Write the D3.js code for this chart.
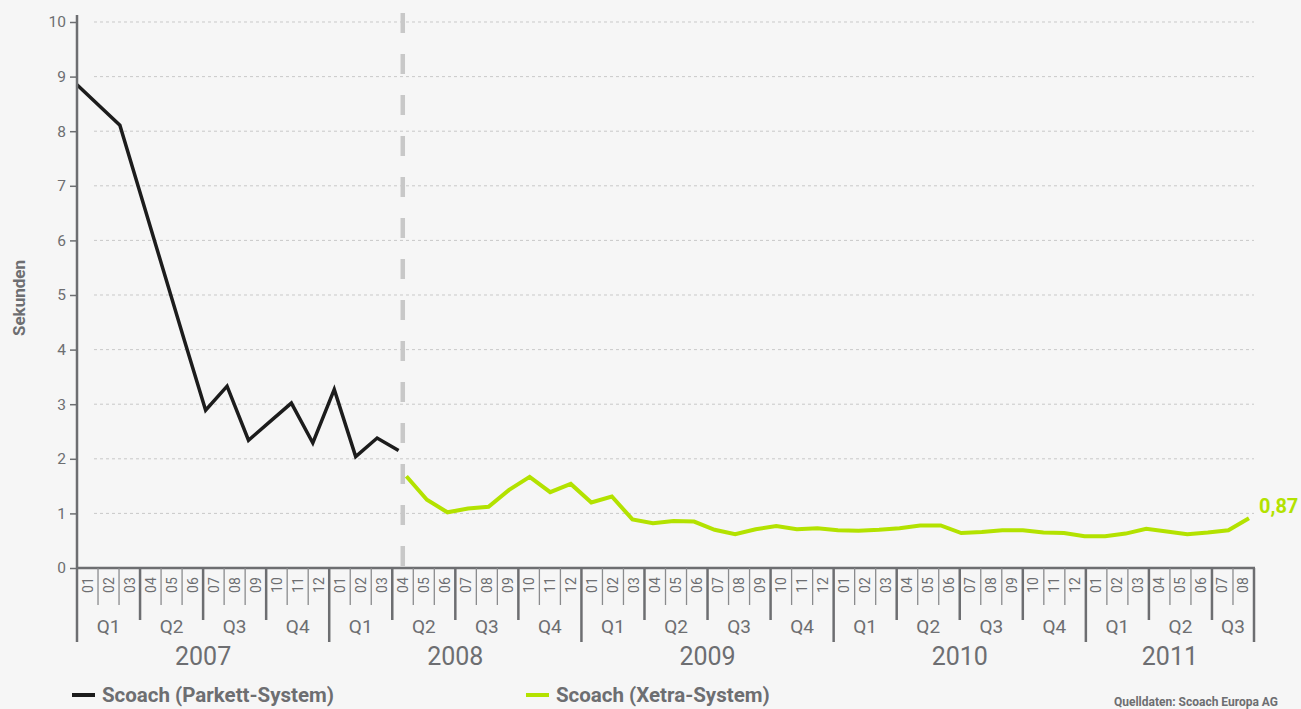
<!DOCTYPE html>
<html><head><meta charset="utf-8">
<script src="https://cdn.jsdelivr.net/npm/d3@7"></script>
<style>
html,body{margin:0;padding:0;background:#f6f6f6;}
svg{display:block;font-family:Roboto,"DejaVu Sans",sans-serif;}
</style></head><body>
<svg id="c" width="1301" height="709"></svg>
<script>
// ---- data ----
const parkettValues = [8.85, 8.48, 8.11, 6.80, 5.49, 4.18, 2.89, 3.33, 2.34, 2.68, 3.02, 2.29, 3.27, 2.04, 2.38, 2.15];
const xetraValues = [1.68,1.25,1.02,1.09,1.12,1.43,1.67,1.39,1.54,1.20,1.31,0.89,0.82,0.86,0.85,0.70,0.62,0.71,0.77,0.71,0.73,0.69,0.68,0.70,0.73,0.78,0.78,0.64,0.66,0.69,0.69,0.65,0.64,0.58,0.58,0.63,0.72,0.67,0.62,0.65,0.69,0.91];
const parkettSpan = [0, 15.3];     // months since Jan 2007
const xetraSpan = [15.67, 55.76];
const systemSwitch = 15.5;         // April 2008
const yearLabels = ["2007","2008","2009","2010","2011"];
const quarterLabels = ["Q1","Q2","Q3","Q4"];
const monthLabels = ["01","02","03","04","05","06","07","08","09","10","11","12"];
const monthCount = 56;             // Jan 2007 .. Aug 2011
const yTicks = [0,1,2,3,4,5,6,7,8,9,10];
const seriesNames = ["Scoach (Parkett-System)", "Scoach (Xetra-System)"];
const lastLabel = "0,87";
const yTitle = "Sekunden";
const source = "Quelldaten: Scoach Europa AG";

// ---- style ----
const GRAY = "#6d6e71", BLACK = "#1c1c1c", GREEN = "#b3e200", GRID = "#c9c9c9";
const svg = d3.select("#c");
const x = d3.scaleLinear().domain([0, monthCount]).range([77, 1254]);
const y = d3.scaleLinear().domain([0, 10]).range([568, 22]);
const xp = d3.scalePoint().domain(d3.range(parkettValues.length)).range(parkettSpan.map(x));
const xx = d3.scalePoint().domain(d3.range(xetraValues.length)).range(xetraSpan.map(x));

// gridlines
svg.append("g").selectAll("line").data(yTicks.filter(d => d > 0)).join("line")
  .attr("x1", 94).attr("x2", x(monthCount)).attr("y1", d => y(d)).attr("y2", d => y(d))
  .attr("stroke", GRID).attr("stroke-width", 1).attr("stroke-dasharray", "3,3");

// system switch dashed line
svg.append("line").attr("x1", x(systemSwitch)).attr("x2", x(systemSwitch))
  .attr("y1", 13).attr("y2", y(0)).attr("stroke", "#c8c8c8").attr("stroke-width", 4.5)
  .attr("stroke-dasharray", "20,21");

// lines
const line = (sx) => d3.line().x((d, i) => sx(i)).y(d => y(d));
svg.append("path").datum(xetraValues).attr("d", line(xx)).attr("fill", "none")
  .attr("stroke", GREEN).attr("stroke-width", 4).attr("stroke-linejoin", "miter");
svg.append("path").datum(parkettValues).attr("d", line(xp)).attr("fill", "none")
  .attr("stroke", BLACK).attr("stroke-width", 3.5).attr("stroke-linejoin", "miter");

// y axis
const yAxis = svg.append("g").attr("transform", `translate(${x(0)},0)`)
  .call(d3.axisLeft(y).tickValues(yTicks).tickSize(7).tickPadding(4).tickFormat(d3.format("d")));
yAxis.select(".domain").remove();
yAxis.selectAll(".tick line").attr("stroke", GRAY).attr("stroke-width", 1.5);
yAxis.selectAll(".tick text").attr("fill", GRAY).attr("font-size", 15.5).attr("font-family", "Roboto");
svg.append("line").attr("x1", x(0)).attr("x2", x(0)).attr("y1", 15).attr("y2", y(0) + 1)
  .attr("stroke", GRAY).attr("stroke-width", 2.5);

// x axis line
svg.append("line").attr("x1", x(0) - 1).attr("x2", x(monthCount) + 1).attr("y1", y(0)).attr("y2", y(0))
  .attr("stroke", GRAY).attr("stroke-width", 2.5);

// month dividers
const bounds = d3.range(monthCount + 1);
const gx = svg.append("g");
gx.selectAll("line.div").data(bounds).join("line").attr("class", "div")
  .attr("x1", d => x(d)).attr("x2", d => x(d)).attr("y1", y(0))
  .attr("y2", d => (d % 12 === 0 || d === monthCount) ? 642 : (d % 3 === 0 ? 620 : 605))
  .attr("stroke", d => (d % 3 === 0 || d === monthCount) ? GRAY : "#8a8b8d")
  .attr("stroke-width", d => (d % 3 === 0 || d === monthCount) ? 2.5 : 1.3);

// month labels
gx.selectAll("text.m").data(d3.range(monthCount)).join("text").attr("class", "m")
  .attr("transform", d => `translate(${x(d + 0.5)},585) rotate(-90)`)
  .attr("text-anchor", "middle").attr("dominant-baseline", "central")
  .attr("font-size", 14).attr("fill", GRAY).text(d => monthLabels[d % 12]);

// quarter labels
const quarters = d3.range(Math.ceil(monthCount / 3)).map(q => ({
  q, start: q * 3, end: Math.min(q * 3 + 3, monthCount)
}));
gx.selectAll("text.q").data(quarters).join("text").attr("class", "q")
  .attr("x", d => x((d.start + d.end) / 2)).attr("y", 633)
  .attr("text-anchor", "middle").attr("font-size", 19).attr("fill", GRAY)
  .text(d => quarterLabels[d.q % 4]);

// year labels
const years = yearLabels.map((t, i) => ({ t, start: i * 12, end: Math.min(i * 12 + 12, monthCount) }));
gx.selectAll("text.y").data(years).join("text").attr("class", "y")
  .attr("x", d => x((d.start + d.end) / 2)).attr("y", 665)
  .attr("text-anchor", "middle").attr("font-size", 25).attr("fill", GRAY).text(d => d.t);

// y title
svg.append("text").attr("transform", "translate(25,298) rotate(-90)")
  .attr("text-anchor", "middle").attr("font-size", 17).attr("font-weight", "bold")
  .attr("fill", GRAY).text(yTitle);

// last value label
svg.append("text").attr("x", 1259).attr("y", 513).attr("font-size", 20).attr("font-weight", "bold")
  .attr("fill", GREEN).text(lastLabel);

// legend
const legend = [{ name: seriesNames[0], color: BLACK, x: 72 }, { name: seriesNames[1], color: GREEN, x: 526 }];
const lg = svg.append("g").selectAll("g").data(legend).join("g")
  .attr("transform", d => `translate(${d.x},695)`);
lg.append("line").attr("x1", 0).attr("x2", 23).attr("stroke", d => d.color).attr("stroke-width", 4);
lg.append("text").attr("x", 30).attr("y", 7).attr("font-size", 20.5).attr("font-weight", "bold")
  .attr("fill", GRAY).text(d => d.name);

// source
svg.append("text").attr("x", 1278).attr("y", 706).attr("text-anchor", "end")
  .attr("font-size", 12).attr("font-weight", "bold").attr("fill", GRAY).text(source);
</script>
</body></html>
